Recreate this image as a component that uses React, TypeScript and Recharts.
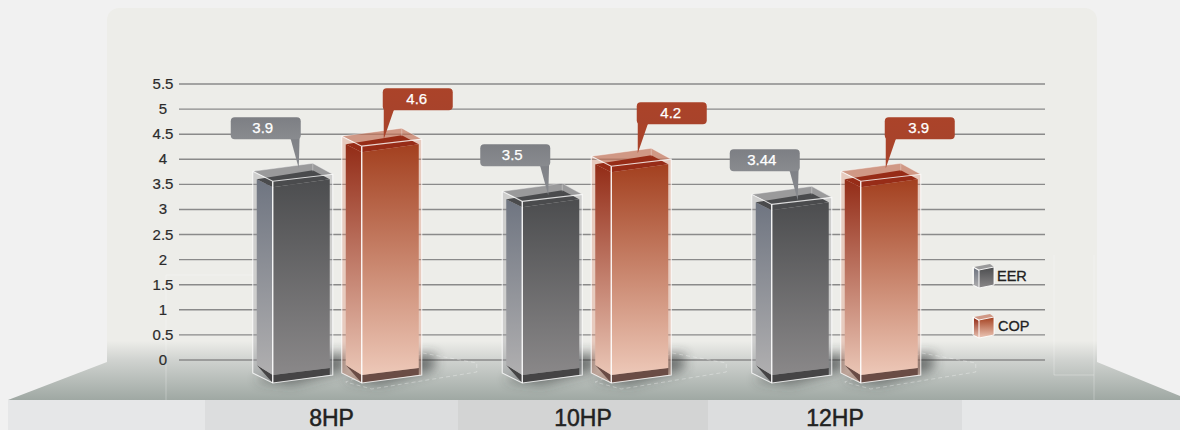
import { BarChart, Bar, XAxis, YAxis, CartesianGrid, Legend, LabelList } from 'recharts';

const categories = ['8HP', '10HP', '12HP'];
const eerValues = [3.9, 3.5, 3.44];
const copValues = [4.6, 4.2, 3.9];
const yTicks = [0, 0.5, 1, 1.5, 2, 2.5, 3, 3.5, 4, 4.5, 5, 5.5];
const legendOrder = ['EER', 'COP'];

const rows = categories.map((name, i) => ({ name, eer: eerValues[i], cop: copValues[i] }));

const FONT = '"Liberation Sans", Arial, sans-serif';
const tickNudge = [-6, -4, -1.5];

const eerTheme = {
  id: 'eer',
  left: ['#6f7581', '#b0afb0'],
  main: ['#4c4d4f', '#8a8889'],
  top: '#4a4b4d',
  floor: '#454445',
  glassTop: 'rgba(125,125,128,0.75)',
  glass: 'rgba(150,150,155,0.35)',
  callout: ['#7d7f84', '#898b8f'],
  calloutDx: [-22, -22, -22],
  calloutLift: [47, 40, 38],
};
const copTheme = {
  id: 'cop',
  left: ['#932c17', '#eac6b6'],
  main: ['#a3401f', '#edc8b8'],
  top: '#972c17',
  floor: '#6a4c45',
  glassTop: 'rgba(195,115,90,0.7)',
  glass: 'rgba(220,140,115,0.35)',
  callout: ['#ab4329', '#a8432b'],
  calloutDx: [41, 45.5, 44],
  calloutLift: [41, 47, 47],
};

const pts = (list: number[][]) => list.map(p => p.join(',')).join(' ');

function Cube({ x, y, height, theme }: any) {
  const base = y + height;
  const isCop = theme.id === 'cop';
  return (
    <g>
      <polygon points={pts([[x + 60, base - 4], [x + 94, base - 6], [x + 92, base + 10], [x + 40, base + 24], [x + 2, base + 20]])} fill="#2e3230" opacity={0.6} filter="url(#softShadow)" />
      {isCop && (
        <polygon points={pts([[x + 81, base - 7], [x + 135, base + 3], [x + 135, base + 12], [x + 30, base + 29], [x + 4, base + 22]])} fill="none" stroke="#fff" strokeOpacity={0.3} strokeDasharray="4 3" />
      )}
      {/* glass box, behind the block */}
      <polygon points={pts([[x, y + 7], [x + 60, y - 1], [x + 80, y + 10], [x + 20, y + 17]])} fill={theme.glassTop} />
      <polygon points={pts([[x, y + 7], [x + 20, y + 17], [x + 20, base + 23], [x, base + 13]])} fill={theme.glass} />
      <polygon points={pts([[x + 20, y + 17], [x + 80, y + 10], [x + 80, base + 15], [x + 20, base + 23]])} fill={theme.glass} />
      {/* inner block */}
      <polygon points={pts([[x + 4, base + 5], [x + 20, base + 23], [x + 77, base + 15], [x + 77, base + 8], [x + 20, base + 15]])} fill={theme.floor} />
      <polygon points={pts([[x + 4, y + 15], [x + 20, y + 23], [x + 20, base + 15], [x + 4, base + 5]])} fill={`url(#${theme.id}Left)`} />
      <polygon points={pts([[x + 20, y + 23], [x + 77, y + 15], [x + 77, base + 8], [x + 20, base + 15]])} fill={`url(#${theme.id}Main)`} />
      <polygon points={pts([[x + 4, y + 15], [x + 60, y + 6], [x + 77, y + 15], [x + 20, y + 23]])} fill={theme.top} />
      {/* edges */}
      <polyline points={pts([[x, y + 7], [x + 60, y - 1], [x + 80, y + 10]])} fill="none" stroke="#fff" strokeOpacity={0.4} />
      <line x1={x + 60} y1={y - 1} x2={x + 60} y2={y + 7} stroke="#fff" strokeOpacity={0.3} />
      <polyline points={pts([[x, y + 7], [x + 20, y + 17], [x + 80, y + 10], [x + 80, base + 15], [x + 20, base + 23], [x, base + 13], [x, y + 7]])} fill="none" stroke="#fff" strokeOpacity={0.8} strokeWidth={1.1} />
      <line x1={x + 20} y1={y + 17} x2={x + 20} y2={base + 23} stroke="#fff" strokeWidth={1.3} />
    </g>
  );
}

function Callout(props: any, theme: any) {
  const box = props.viewBox ?? props;
  const { x, y } = box;
  const i = props.index;
  const left = x + theme.calloutDx[i];
  const top = y - theme.calloutLift[i];
  const isCop = theme.id === 'cop';
  const tipX = isCop ? left + 1 : left + 68;
  const tipY = top + 51;
  const pointer = isCop
    ? [[left + 1, top + 14], [tipX, tipY], [left + 11, top + 22], [left + 11, top + 14]]
    : [[left + 69, top + 14], [tipX, tipY], [left + 60, top + 22], [left + 60, top + 14]];
  return (
    <g>
      <polygon points={pts(pointer)} fill={`url(#${theme.id}Callout)`} />
      <rect x={left} y={top} width={70} height={22} rx={4} fill={`url(#${theme.id}Callout)`} />
      <text x={left + (isCop ? 34 : 32)} y={top + 15.5} textAnchor="middle" fontFamily={FONT} fontSize={15} fill="#fff" stroke="#fff" strokeWidth={0.25}>
        {props.value}
      </text>
    </g>
  );
}

function YTick({ y, payload }: any) {
  return (
    <text x={163} y={y + 5} textAnchor="middle" fontFamily={FONT} fontSize={15} fill="#2b2b2b" stroke="#2b2b2b" strokeWidth={0.2}>
      {payload.value}
    </text>
  );
}

function XTick({ x, y, payload, index }: any) {
  return (
    <text x={x + tickNudge[index]} y={y + 58} textAnchor="middle" fontFamily={FONT} fontSize={23} fill="#222" stroke="#222" strokeWidth={0.5}>
      {payload.value}
    </text>
  );
}

function LegendIcon({ theme }: any) {
  const t = theme;
  return (
    <svg width={25} height={26} style={{ display: 'block', flex: 'none' }}>
      <polygon points="2,4 18,1 22,4 7,7" fill={t.glassTop} />
      <polygon points="2,5 7,8 7,25 2,22" fill={`url(#${t.id}Left)`} />
      <polygon points="7,7 22,4 22,22 7,25" fill={`url(#${t.id}Main)`} />
      <polyline points="1,4 7,7 22,4 22,22 7,25 1,22 1,4" fill="none" stroke="#fff" strokeOpacity={0.85} />
      <line x1={7} y1={7} x2={7} y2={25} stroke="#fff" />
    </svg>
  );
}

function LegendBox({ payload }: any) {
  const items = legendOrder.map(name => (payload || []).find((p: any) => p.value === name)).filter(Boolean);
  return (
    <div>
      {items.map((p: any) => (
        <div key={p.value} style={{ display: 'flex', alignItems: 'center', height: 26, marginBottom: 24, fontFamily: FONT, fontSize: 14.5, color: '#222' }}>
          <LegendIcon theme={p.value === 'EER' ? eerTheme : copTheme} />
          <span style={{ marginLeft: p.value === 'EER' ? 0 : 1, WebkitTextStroke: '0.3px #222' }}>{p.value}</span>
        </div>
      ))}
    </div>
  );
}

function Backdrop() {
  return (
    <svg width={1180} height={430} style={{ position: 'absolute', left: 0, top: 0 }}>
      <defs>
        <linearGradient id="floorFade" gradientUnits="userSpaceOnUse" x1={0} y1={341} x2={0} y2={400}>
          <stop offset="0" stopColor="#edede9" />
          <stop offset="0.33" stopColor="#cfd2cf" />
          <stop offset="1" stopColor="#9fa8a3" />
        </linearGradient>
        {[eerTheme, copTheme].map(t => (
          <g key={t.id}>
            <linearGradient id={`${t.id}Left`} x1="0" y1="0" x2="0" y2="1">
              <stop offset="0" stopColor={t.left[0]} />
              <stop offset="1" stopColor={t.left[1]} />
            </linearGradient>
            <linearGradient id={`${t.id}Main`} x1="0" y1="0" x2="0" y2="1">
              <stop offset="0" stopColor={t.main[0]} />
              <stop offset="1" stopColor={t.main[1]} />
            </linearGradient>
            <linearGradient id={`${t.id}Callout`} x1="0" y1="0" x2="0" y2="1">
              <stop offset="0" stopColor={t.callout[0]} />
              <stop offset="1" stopColor={t.callout[1]} />
            </linearGradient>
          </g>
        ))}
        <filter id="softShadow" x="-30%" y="-60%" width="160%" height="220%">
          <feGaussianBlur stdDeviation="6" />
        </filter>
      </defs>
      <rect x={0} y={0} width={1180} height={430} fill="#f1f1f1" />
      <rect x={107} y={8} width={990} height={392} rx={12} fill="url(#floorFade)" />
      <polygon points="8,400 107,362 1097,362 1180,396 1180,400" fill="url(#floorFade)" />
      <rect x={8} y={400} width={1172} height={30} fill="#e6e7e8" />
      <rect x={205} y={400} width={253} height={30} fill="#dcddde" />
      <rect x={458} y={400} width={250} height={30} fill="#d3d4d4" />
      <rect x={708} y={400} width={254} height={30} fill="#dcddde" />
      <g stroke="#fff" strokeOpacity={0.28} fill="none">
        <line x1={166} y1={275} x2={166} y2={400} />
        <line x1={166} y1={275} x2={254} y2={275} />
        <line x1={1054} y1={255} x2={1054} y2={375} />
        <line x1={1054} y1={375} x2={1094} y2={375} />
        <line x1={1094} y1={255} x2={1094} y2={400} />
        <line x1={664} y1={275} x2={664} y2={340} />
      </g>
    </svg>
  );
}

export default function App() {
  return (
    <div style={{ position: 'absolute', left: 0, top: 0, width: 1180, height: 430, overflow: 'hidden' }}>
      <Backdrop />
      <div style={{ position: 'absolute', left: 0, top: 0 }}>
        <BarChart width={1180} height={430} data={rows} barSize={80} barGap={9} margin={{ top: 84, right: 135, bottom: 10, left: 139 }}>
          <CartesianGrid horizontal vertical={false} stroke="#8a8a8a" strokeWidth={1.4} />
          <XAxis dataKey="name" height={60} axisLine={false} tickLine={false} interval={0} padding={{ left: 33.75, right: 83.75 }} tick={<XTick />} />
          <YAxis width={40} domain={[0, 5.5]} ticks={yTicks} interval={0} axisLine={false} tickLine={false} tick={<YTick />} />
          <Legend layout="horizontal" align="center" verticalAlign="middle" content={<LegendBox />} wrapperStyle={{ left: 972, top: 263, width: 80, height: 80, bottom: 'auto' }} />
          <Bar dataKey="eer" name="EER" fill="#55565a" isAnimationActive={false} shape={(p: any) => <Cube {...p} theme={eerTheme} />}>
            <LabelList dataKey="eer" content={(p: any) => Callout(p, eerTheme)} />
          </Bar>
          <Bar dataKey="cop" name="COP" fill="#a9432a" isAnimationActive={false} shape={(p: any) => <Cube {...p} theme={copTheme} />}>
            <LabelList dataKey="cop" content={(p: any) => Callout(p, copTheme)} />
          </Bar>
        </BarChart>
      </div>
    </div>
  );
}
